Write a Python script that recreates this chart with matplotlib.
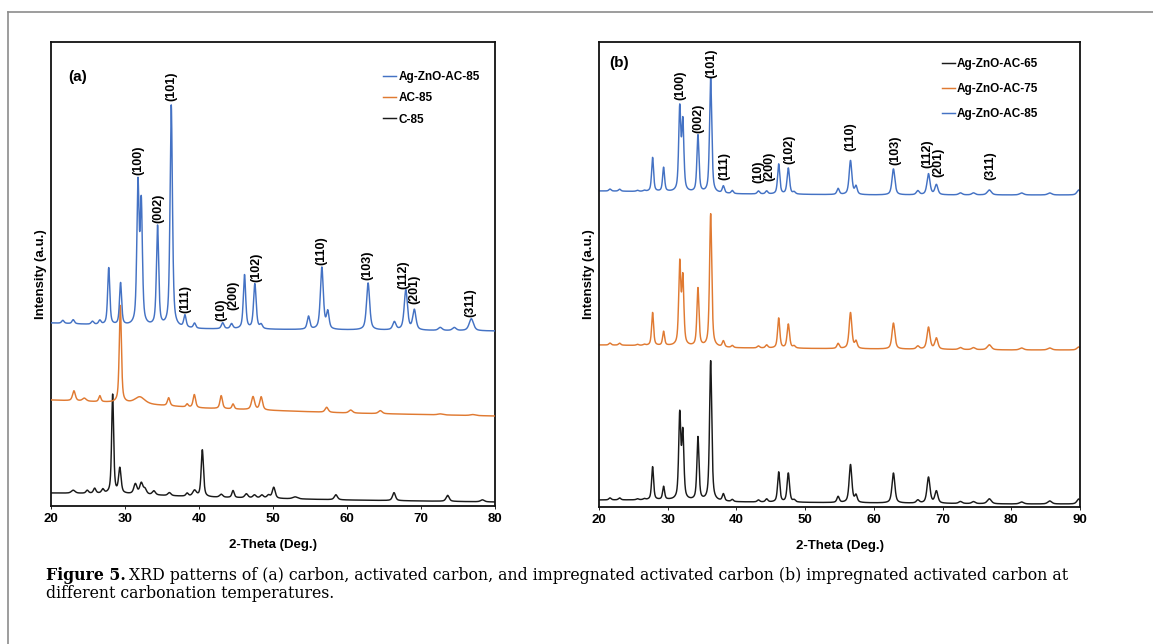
# XRD patterns of carbon / activated carbon / Ag-ZnO impregnated AC
import numpy as np
import matplotlib.pyplot as plt
from matplotlib.lines import Line2D

# ---------------- data ----------------
# background levels at anchor angles (arbitrary intensity units)
bg_x = [20, 30, 40, 60, 80, 90]
bg_a85 = [183, 180, 177, 176, 175, 175]
bg_ac85 = [106, 103, 98, 93, 90, 90]
bg_c85 = [13, 12, 9, 6, 4, 4]
bg_b85 = [316, 315, 313, 312, 312, 312]
bg_b75 = [162, 161, 159, 158, 157, 157]
bg_b65 = [7, 7, 5, 4, 3, 3]

# Ag-ZnO reflections (2-theta, FWHM) shared by the impregnated samples
zno_pos = [21.6, 23.0, 25.6, 26.6, 27.8, 29.4, 31.75, 32.2, 34.4, 36.25, 38.1, 39.4,
           43.2, 44.4, 46.15, 47.55, 48.4, 54.8, 56.6, 57.4, 62.85, 66.4, 67.95,
           69.1, 72.6, 74.5, 76.8, 81.5, 85.6, 89.8]
zno_fwhm = [0.4, 0.4, 0.4, 0.4, 0.34, 0.34, 0.36, 0.36, 0.36, 0.38, 0.38, 0.38,
            0.42, 0.42, 0.38, 0.42, 0.42, 0.42, 0.47, 0.42, 0.5, 0.52, 0.52,
            0.52, 0.6, 0.6, 0.7, 0.7, 0.7, 0.6]
h_a85 = [3, 4, 3, 4, 57, 42, 138, 118, 100, 222, 12, 5,
         6, 5, 54, 45, 4, 13, 62, 17, 47, 8, 40,
         20, 3, 3, 12, 0, 0, 0]
h_b85 = [2, 2, 1, 1, 34, 24, 82, 68, 57, 115, 7, 3,
         3, 3, 30, 26, 2, 6, 34, 8, 26, 4, 21,
         10, 2, 2, 5, 2, 2, 5]
h_b75 = [2, 2, 1, 1, 33, 14, 81, 66, 58, 133, 6, 2,
         2, 3, 30, 24, 2, 5, 36, 7, 26, 3, 22,
         11, 2, 2, 5, 2, 2, 3]
h_b65 = [2, 2, 1, 1, 33, 13, 84, 65, 63, 140, 7, 2,
         2, 3, 30, 29, 2, 6, 38, 7, 30, 3, 26,
         12, 2, 2, 5, 2, 3, 5]

# AC-85
ac_pos = [23.1, 24.5, 26.6, 29.37, 32.0, 35.9, 38.4, 39.37, 43.0, 44.6, 47.3, 48.4,
          57.25, 60.5, 64.5, 72.6, 77.0]
ac_h = [10, 3, 6, 97, 7, 8, 3, 13, 13, 5, 13, 13, 5, 3, 3, 1, 1]
ac_fwhm = [0.45, 0.6, 0.35, 0.34, 1.6, 0.4, 0.35, 0.4, 0.4, 0.35, 0.5, 0.45,
           0.5, 0.6, 0.6, 0.8, 0.8]

# C-85
c_pos = [23.0, 24.9, 25.9, 27.0, 28.33, 29.3, 31.4, 32.2, 32.7, 33.9, 36.0, 38.4,
         39.4, 40.45, 43.0, 44.6, 46.4, 47.5, 48.5, 49.4, 50.1, 53.0, 58.5, 66.35,
         73.6, 78.3]
c_h = [3, 3, 5, 4, 99, 25, 10, 11, 5, 4, 3, 3,
       6, 47, 3, 7, 4, 3, 3, 3, 11, 2, 5, 8,
       6, 2]
c_fwhm = [0.6, 0.4, 0.4, 0.4, 0.32, 0.4, 0.5, 0.5, 0.5, 0.5, 0.5, 0.4,
          0.6, 0.37, 0.5, 0.37, 0.5, 0.5, 0.5, 0.5, 0.47, 0.8, 0.5, 0.47,
          0.5, 0.6]

# Miller indices labels
hkl = ['(100)', '(002)', '(101)', '(111)', '(10)', '(200)', '(102)',
       '(110)', '(103)', '(112)', '(201)', '(311)']
hkl_a = [31.75, 34.5, 36.3, 38.1, 43.0, 44.65, 47.8, 56.6, 62.8, 67.6, 69.15, 76.7]
hkl_b = [31.9, 34.5, 36.3, 38.3, 43.15, 44.75, 47.7, 56.6, 63.1, 67.8, 69.35, 76.9]

# label lift above the curve (layout)
lift_a = [2, 2, 4, 2, 2, 13, 2, 2, 3, 1, 5, 2]
lift_b = [4, 2, 0, 6, 8, 10, 4, 9, 4, 6, 7, 10]

BLUE = '#4472C4'
ORANGE = '#E07A32'
BLACK = '#1a1a1a'
SANS = 'Liberation Sans'


def pattern(x, bg, pos, heights, fwhm, eta=0.6):
    y = np.interp(x, bg_x, bg)
    for c, h, w in zip(pos, heights, fwhm):
        d = (x - c) / (w / 2)
        y = y + h * (eta / (1 + d ** 2) + (1 - eta) * np.exp(-np.log(2) * d ** 2))
    return y


def label_peaks(ax, x, y, xs, lifts):
    for name, xp, lf in zip(hkl, xs, lifts):
        win = (x > xp - 0.35) & (x < xp + 0.35)
        top = y[win].max() + lf
        ax.text(xp, top, name, rotation=90, ha='center', va='bottom',
                fontsize=9, fontweight='bold', family=SANS)


def style_axes(ax, xmax, ticks):
    ax.set_xlim(20, xmax)
    ax.set_ylim(0, 464)
    ax.set_yticks([])
    ax.set_xticks(ticks)
    ax.tick_params(axis='x', length=2, width=0.6, pad=3, labelsize=9.5)
    for t in ax.get_xticklabels():
        t.set_fontweight('bold')
        t.set_family(SANS)
    for s in ax.spines.values():
        s.set_linewidth(1.3)
        s.set_color('#111111')
    ax.set_xlabel('2-Theta (Deg.)', fontsize=9.5, fontweight='bold', family=SANS, labelpad=10)
    ax.set_ylabel('Intensity (a.u.)', fontsize=9.5, fontweight='bold', family=SANS, labelpad=3)


fig = plt.figure(figsize=(11.53, 6.44), dpi=100)

# ---------------- panel (a) ----------------
ax1 = fig.add_axes([51 / 1153, 1 - 506 / 644, 444 / 1153, 464 / 644])
xa = np.arange(20, 80.001, 0.01)
y_c85 = pattern(xa, bg_c85, c_pos, c_h, c_fwhm)
y_ac85 = pattern(xa, bg_ac85, ac_pos, ac_h, ac_fwhm)
y_a85 = pattern(xa, bg_a85, zno_pos, h_a85, zno_fwhm)
ax1.plot(xa, y_c85, color=BLACK, lw=1.05, label='C-85', zorder=2)
ax1.plot(xa, y_ac85, color=ORANGE, lw=1.05, label='AC-85', zorder=3)
ax1.plot(xa, y_a85, color=BLUE, lw=1.05, label='Ag-ZnO-AC-85', zorder=4)
label_peaks(ax1, xa, y_a85, hkl_a, lift_a)
style_axes(ax1, 80, [20, 30, 40, 50, 60, 70, 80])
ax1.text(0.038, 0.925, '(a)', transform=ax1.transAxes, fontsize=11,
         fontweight='bold', family=SANS, va='center')
h, l = ax1.get_legend_handles_labels()
ax1.legend(h[::-1], l[::-1], loc='upper left', bbox_to_anchor=(0.735, 0.95),
           frameon=False, handlelength=1.1, handletextpad=0.2, labelspacing=0.78,
           borderpad=0, prop={'family': SANS, 'weight': 'bold', 'size': 8.5})

# ---------------- panel (b) ----------------
ax2 = fig.add_axes([599 / 1153, 1 - 507 / 644, 481 / 1153, 465 / 644])
xb = np.arange(20, 90.001, 0.01)
y_b65 = pattern(xb, bg_b65, zno_pos, h_b65, zno_fwhm)
y_b75 = pattern(xb, bg_b75, zno_pos, h_b75, zno_fwhm)
y_b85 = pattern(xb, bg_b85, zno_pos, h_b85, zno_fwhm)
ax2.plot(xb, y_b65, color=BLACK, lw=1.05, label='Ag-ZnO-AC-65')
ax2.plot(xb, y_b75, color=ORANGE, lw=1.05, label='Ag-ZnO-AC-75')
ax2.plot(xb, y_b85, color=BLUE, lw=1.05, label='Ag-ZnO-AC-85')
label_peaks(ax2, xb, y_b85, hkl_b, lift_b)
style_axes(ax2, 90, [20, 30, 40, 50, 60, 70, 80, 90])
ax2.set_ylim(0, 465)
ax2.text(0.022, 0.955, '(b)', transform=ax2.transAxes, fontsize=11,
         fontweight='bold', family=SANS, va='center')
ax2.legend(loc='upper left', bbox_to_anchor=(0.7, 0.978),
           frameon=False, handlelength=1.1, handletextpad=0.2, labelspacing=1.08,
           borderpad=0, prop={'family': SANS, 'weight': 'bold', 'size': 8.5})

# ---------------- page frame and caption ----------------
fig.add_artist(Line2D([8 / 1153, 8 / 1153], [0, 1 - 12 / 644], transform=fig.transFigure,
                      color='#8c8c8c', lw=1.2))
fig.add_artist(Line2D([8 / 1153, 1], [1 - 12 / 644, 1 - 12 / 644], transform=fig.transFigure,
                      color='#8c8c8c', lw=1.2))

CAP = 'DejaVu Serif'
renderer = fig.canvas.get_renderer()
cap_y1 = 1 - 575 / 644
cap_y2 = 1 - 593 / 644
t1 = fig.text(46 / 1153, cap_y1, 'Figure 5.', fontsize=11.35, fontweight='bold',
              family=CAP, va='center')
bb = t1.get_window_extent(renderer)
fig.text(bb.x1 / fig.bbox.width + 3 / 1153, cap_y1,
         'XRD patterns of (a) carbon, activated carbon, and impregnated activated carbon '
         '(b) impregnated activated carbon at',
         fontsize=11.35, family=CAP, va='center')
fig.text(46 / 1153, cap_y2, 'different carbonation temperatures.', fontsize=11.35,
         family=CAP, va='center')

fig.savefig('out.png', dpi=100)
